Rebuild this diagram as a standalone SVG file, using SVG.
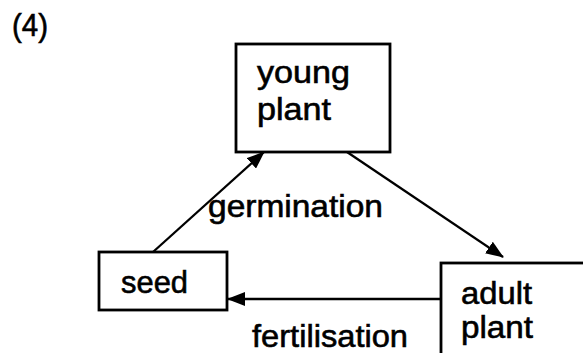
<svg xmlns="http://www.w3.org/2000/svg" width="583" height="353" viewBox="0 0 583 353">
<defs>
<marker id="ah" markerWidth="18" markerHeight="14" refX="17" refY="7" orient="auto" markerUnits="userSpaceOnUse">
<path d="M0,0 L18,7 L0,14 Z" fill="#000"/>
</marker>
<style>
text{font-family:"Liberation Sans",Arial,sans-serif;font-size:32px;fill:#000;stroke:#000;stroke-width:0.6}
.box{fill:#fff;stroke:#000;stroke-width:2.8}
.edge{stroke:#000;stroke-width:2.3;fill:none;marker-end:url(#ah)}
</style>
</defs>
<rect width="583" height="353" fill="#fff"/>
<text x="12" y="36" textLength="36" lengthAdjust="spacingAndGlyphs" font-size="30">(4)</text>
<g id="connectors">
<line class="edge" x1="153" y1="252" x2="264" y2="152"/>
<line class="edge" x1="347" y1="152" x2="503" y2="257"/>
<line class="edge" x1="441" y1="299" x2="228" y2="299"/>
</g>
<g id="young-plant">
<rect class="box" x="236" y="44" width="154" height="108"/>
<text x="257" y="83" textLength="93" lengthAdjust="spacingAndGlyphs">young</text>
<text x="257" y="120" textLength="74" lengthAdjust="spacingAndGlyphs">plant</text>
</g>
<g id="seed">
<rect class="box" x="99" y="252" width="128" height="58"/>
<text x="121" y="293" textLength="67" lengthAdjust="spacingAndGlyphs">seed</text>
</g>
<g id="adult-plant">
<rect class="box" x="441" y="263" width="150" height="100"/>
<text x="461" y="304" textLength="71" lengthAdjust="spacingAndGlyphs">adult</text>
<text x="461" y="338" textLength="72" lengthAdjust="spacingAndGlyphs">plant</text>
</g>
<g id="labels">
<text x="208" y="217" textLength="175" lengthAdjust="spacingAndGlyphs">germination</text>
<text x="252" y="347" textLength="156" lengthAdjust="spacingAndGlyphs">fertilisation</text>
</g>
</svg>
